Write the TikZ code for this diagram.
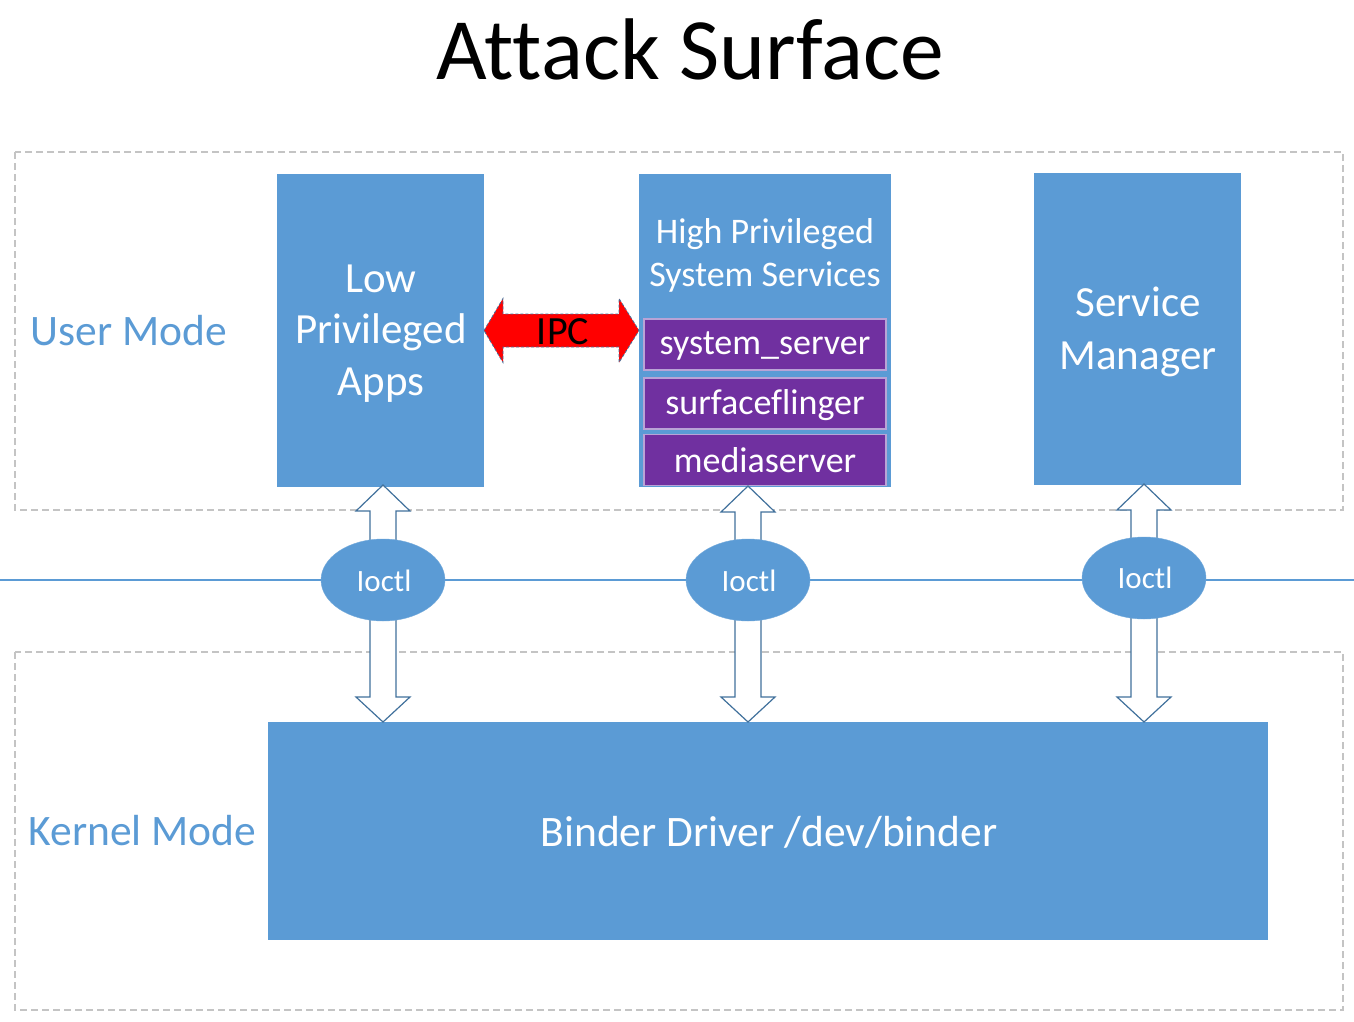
\documentclass[tikz,border=0pt]{standalone}
\usepackage{fontspec}
\setmainfont[Ligatures=NoCommon]{Carlito}
\usetikzlibrary{shapes.geometric,calc}
\definecolor{boxblue}{HTML}{5B9BD5}
\definecolor{edgeblue}{HTML}{41719C}
\definecolor{purp}{HTML}{7030A0}
\definecolor{purpedge}{HTML}{B9A3D6}
\definecolor{dashgray}{HTML}{C4C4C4}
\tikzset{
  blockbox/.style={fill=boxblue, inner sep=0pt, outer sep=0pt, text=white, align=center},
  procbox/.style={fill=purp, draw=purpedge, line width=1.5pt, minimum width=242, minimum height=51,
    text=white, inner sep=0pt, outer sep=0pt},
  proctext/.style={text=white, inner sep=0pt, font=\fontsize{36}{42}\selectfont},
  modebox/.style={draw=dashgray, line width=1.3pt, dash pattern=on 7pt off 4pt},
  modelabel/.style={text=boxblue, font=\fontsize{43.5}{50}\selectfont, inner sep=0pt},
  hollow/.style={draw=edgeblue, fill=white, line width=1.2pt, line join=miter},
  ipcarrow/.style={draw=edgeblue, fill=red, line width=0.8pt, dash pattern=on 3pt off 2pt},
  ioctlnode/.style={ellipse, fill=boxblue, draw=boxblue!85!white, minimum width=124, minimum height=82,
    inner sep=0pt},
  ioctltext/.style={text=white, inner sep=0pt, font=\fontsize{31}{36}\selectfont},
  sepline/.style={draw=boxblue, line width=1.2pt}
}
\newcommand\hollowdbl[2]{%
  \draw[hollow] let \p1=#1, \p2=#2 in
    (\x1,\y1) -- (\x1+27pt,\y1-26pt) -- (\x1+13pt,\y1-26pt) -- (\x1+13pt,\y2+25pt)
    -- (\x1+27pt,\y2+25pt) -- (\x1,\y2) -- (\x1-27pt,\y2+25pt) -- (\x1-13pt,\y2+25pt)
    -- (\x1-13pt,\y1-26pt) -- (\x1-27pt,\y1-26pt) -- cycle;}
\begin{document}
\begin{tikzpicture}[x=1pt,y=-1pt]
\useasboundingbox[fill=white] (0,0) rectangle (1354,1022);

% title
\node[font=\fontsize{87.5}{100}\selectfont, inner sep=0pt] (title) at (690,49) {Attack Surface};

% mode areas
\draw[modebox] (15,152) rectangle (1343,510);
\draw[modebox] (15,652) rectangle (1343,1010);
\node[modelabel] (umode) at (129,331) {User Mode};
\node[modelabel] (kmode) at (142.5,831) {Kernel Mode};

% separator line
\coordinate (lineL) at (0,580);
\coordinate (lineR) at (1354,580);
\draw[sepline] (lineL) -- (lineR);

% boxes
\node[blockbox, minimum width=207, minimum height=313] (low) at (380.5,330.5) {};
\node[text=white, align=center, inner sep=0pt, font=\fontsize{43}{51.5}\selectfont]
  (lowtxt) at (381,333.5) {Low\\Privileged\\Apps};
\node[blockbox, minimum width=252, minimum height=313] (high) at (765,330.5) {};
\node[text=white, align=center, inner sep=0pt, font=\fontsize{36}{43}\selectfont]
  (hightxt) at (765,255.5) {High Privileged\\System Services};
\node[procbox] (sysserv) at (765,344.5) {};
\node[procbox] (sflinger) at (765,403.5) {};
\node[procbox] (mserv) at (765,460) {};
\node[proctext] at ($(sysserv)+(0,2)$) {system\_server};
\node[proctext] at ($(sflinger)+(0,2)$) {surfaceflinger};
\node[proctext] at ($(mserv)+(0,0.5)$) {mediaserver};
\node[blockbox, minimum width=207, minimum height=312] (svcmgr) at (1137.5,329) {};
\node[text=white, align=center, inner sep=0pt, font=\fontsize{43}{53}\selectfont]
  (svctxt) at (1138,331.5) {Service\\Manager};
\node[blockbox, minimum width=1000, minimum height=218] (binder) at (768,831) {};
\node[text=white, inner sep=0pt, font=\fontsize{43.5}{50}\selectfont] (bindertxt) at (769,832) {Binder Driver /dev/binder};

% IPC arrow
\draw[ipcarrow] let \p1=(low.east), \p2=(high.west) in
  (\x1,\y1) -- (\x1+19pt,\y1+32pt) -- (\x1+19pt,\y1+16.5pt) -- (\x2-20pt,\y1+16.5pt)
  -- (\x2-20pt,\y1+32pt) -- (\x2,\y1) -- (\x2-20pt,\y1-32pt) -- (\x2-20pt,\y1-16.5pt)
  -- (\x1+19pt,\y1-16.5pt) -- (\x1+19pt,\y1-32pt) -- cycle;
\node[font=\fontsize{40}{48}\selectfont, inner sep=0pt] (ipc) at (563,332) {IPC};

% ioctl arrows
\coordinate (c1) at (383,580);
\coordinate (c2) at (748,580);
\coordinate (c3) at (1144,578);
\hollowdbl{($(c1 |- low.south)+(0,-2)$)}{(c1 |- binder.north)}
\hollowdbl{($(c2 |- high.south)+(0,-1)$)}{(c2 |- binder.north)}
\hollowdbl{($(c3 |- svcmgr.south)+(0,-1)$)}{(c3 |- binder.north)}

\node[ioctlnode] (io1) at (c1) {};
\node[ioctlnode] (io2) at (c2) {};
\node[ioctlnode] (io3) at (c3) {};
\node[ioctltext] at ($(io1)+(1,1)$) {Ioctl};
\node[ioctltext] at ($(io2)+(1,1)$) {Ioctl};
\node[ioctltext] at ($(io3)+(1,0)$) {Ioctl};
\end{tikzpicture}
\end{document}
